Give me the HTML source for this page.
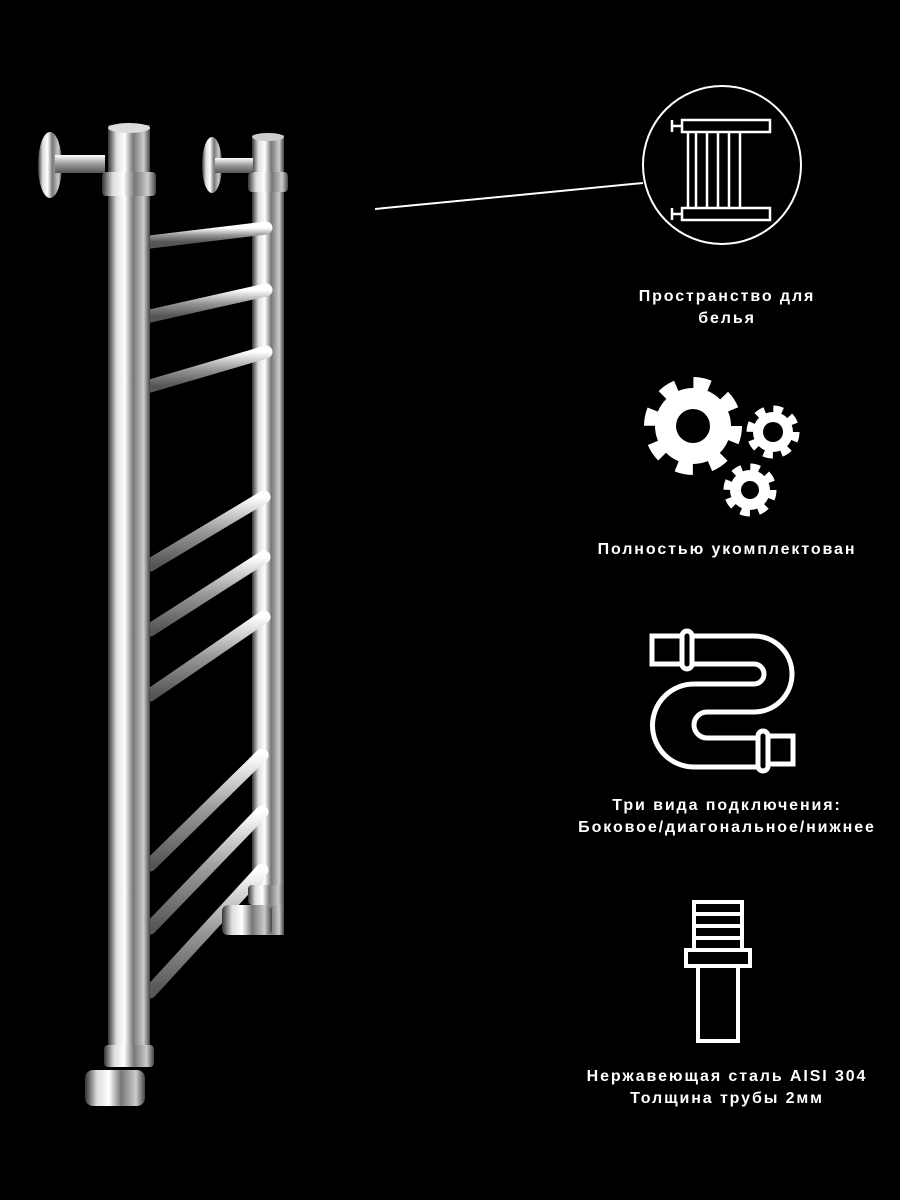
<!DOCTYPE html>
<html><head><meta charset="utf-8"><style>
html,body{margin:0;padding:0;background:#000;}
.t{position:absolute;left:540px;width:374px;text-align:center;color:#fff;font:bold 16px/22px "Liberation Sans","DejaVu Sans",sans-serif;letter-spacing:1.9px}
</style></head><body>
<div style="position:relative;width:900px;height:1200px;overflow:hidden;background:#000">
<svg width="900" height="1200" style="position:absolute;left:0;top:0">
<defs>
<linearGradient id="pg" x1="0" x2="1">
<stop offset="0" stop-color="#333"/><stop offset="0.2" stop-color="#ddd"/><stop offset="0.4" stop-color="#fff"/><stop offset="0.6" stop-color="#777"/><stop offset="0.85" stop-color="#ccc"/><stop offset="1" stop-color="#444"/>
</linearGradient>
<linearGradient id="rg" x1="0" y1="0" x2="0" y2="1">
<stop offset="0" stop-color="#fff"/><stop offset="0.5" stop-color="#999"/><stop offset="1" stop-color="#555"/>
</linearGradient>
</defs>
<rect x="252" y="135" width="32" height="800" fill="url(#pg)"/>
<ellipse cx="268" cy="137" rx="16" ry="4" fill="#ccc"/>
<g stroke="url(#rg)" stroke-width="13" stroke-linecap="round" fill="none">
<line x1="150" y1="242" x2="266" y2="228"/>
<line x1="150" y1="316" x2="266" y2="290"/>
<line x1="150" y1="386" x2="266" y2="352"/>
<line x1="150" y1="565" x2="264" y2="497"/>
<line x1="150" y1="630" x2="264" y2="557"/>
<line x1="150" y1="695" x2="264" y2="617"/>
<line x1="150" y1="865" x2="262" y2="755"/>
<line x1="150" y1="928" x2="262" y2="812"/>
<line x1="150" y1="992" x2="262" y2="870"/>
</g>
<rect x="108" y="125" width="42" height="935" fill="url(#pg)"/>
<ellipse cx="129" cy="128" rx="21" ry="5" fill="#ddd"/>
<rect x="102" y="172" width="54" height="24" rx="4" fill="url(#pg)"/>
<rect x="248" y="172" width="40" height="20" rx="4" fill="url(#pg)"/>
<ellipse cx="50" cy="165" rx="12" ry="33" fill="url(#pg)"/>
<rect x="55" y="155" width="50" height="18" fill="url(#rg)"/>
<ellipse cx="212" cy="165" rx="10" ry="28" fill="url(#pg)"/>
<rect x="215" y="158" width="38" height="15" fill="url(#rg)"/>
<rect x="104" y="1045" width="50" height="22" rx="4" fill="url(#pg)"/>
<rect x="85" y="1070" width="60" height="36" rx="8" fill="url(#pg)"/>
<rect x="248" y="885" width="36" height="20" rx="4" fill="url(#pg)"/>
<rect x="222" y="905" width="50" height="30" rx="6" fill="url(#pg)"/>
<line x1="375" y1="209" x2="643" y2="183" stroke="#fff" stroke-width="2"/>
<circle cx="722" cy="165" r="79" fill="none" stroke="#fff" stroke-width="2"/>
<g fill="none" stroke="#fff" stroke-width="2.5">
<rect x="682" y="120" width="88" height="12"/>
<rect x="682" y="208" width="88" height="12"/>
<line x1="672" y1="120" x2="672" y2="132"/><line x1="672" y1="126" x2="682" y2="126"/>
<line x1="672" y1="208" x2="672" y2="220"/><line x1="672" y1="214" x2="682" y2="214"/>
<line x1="688" y1="132" x2="688" y2="208"/><line x1="696" y1="132" x2="696" y2="208"/>
<line x1="707" y1="132" x2="707" y2="208"/><line x1="718" y1="132" x2="718" y2="208"/>
<line x1="729" y1="132" x2="729" y2="208"/><line x1="740" y1="132" x2="740" y2="208"/>
</g>
<g fill="#fff">
<circle cx="693" cy="426" r="38"/>
<circle cx="773" cy="432" r="20"/>
<circle cx="750" cy="490" r="20"/>
</g>
<g fill="none" stroke="#fff">
<circle cx="693" cy="426" r="42" stroke-width="14" stroke-dasharray="16 17"/>
<circle cx="773" cy="432" r="22" stroke-width="9" stroke-dasharray="9 8.3"/>
<circle cx="750" cy="490" r="22" stroke-width="9" stroke-dasharray="9 8.3"/>
</g>
<g fill="#000"><circle cx="693" cy="426" r="17"/><circle cx="773" cy="432" r="10"/><circle cx="750" cy="490" r="9"/></g>
<g fill="none" stroke="#fff" stroke-width="5">
<rect x="652" y="636" width="30" height="28"/>
<rect x="682" y="631" width="10" height="38" rx="5"/>
<path d="M692 636 H754 A38 38 0 0 1 754 712 H707 A13 13 0 0 0 707 738 H758"/>
<path d="M692 664 H754 A10 10 0 0 1 754 684 H694 A41.5 41.5 0 0 0 694 767 H758"/>
<rect x="758" y="731" width="10" height="40" rx="5"/>
<rect x="768" y="736" width="25" height="28"/>
</g>
<g fill="none" stroke="#fff" stroke-width="4">
<rect x="694" y="902" width="48" height="48"/>
<line x1="694" y1="914" x2="742" y2="914"/><line x1="694" y1="926" x2="742" y2="926"/><line x1="694" y1="938" x2="742" y2="938"/>
<rect x="686" y="950" width="64" height="16"/>
<rect x="698" y="966" width="40" height="75"/>
</g>
</svg>
<div class="t" style="top:286px">Пространство для<br>белья</div>
<div class="t" style="top:539px">Полностью укомплектован</div>
<div class="t" style="top:795px">Три вида подключения:<br>Боковое/диагональное/нижнее</div>
<div class="t" style="top:1066px">Нержавеющая сталь AISI 304<br>Толщина трубы 2мм</div>
</div>
</body></html>
